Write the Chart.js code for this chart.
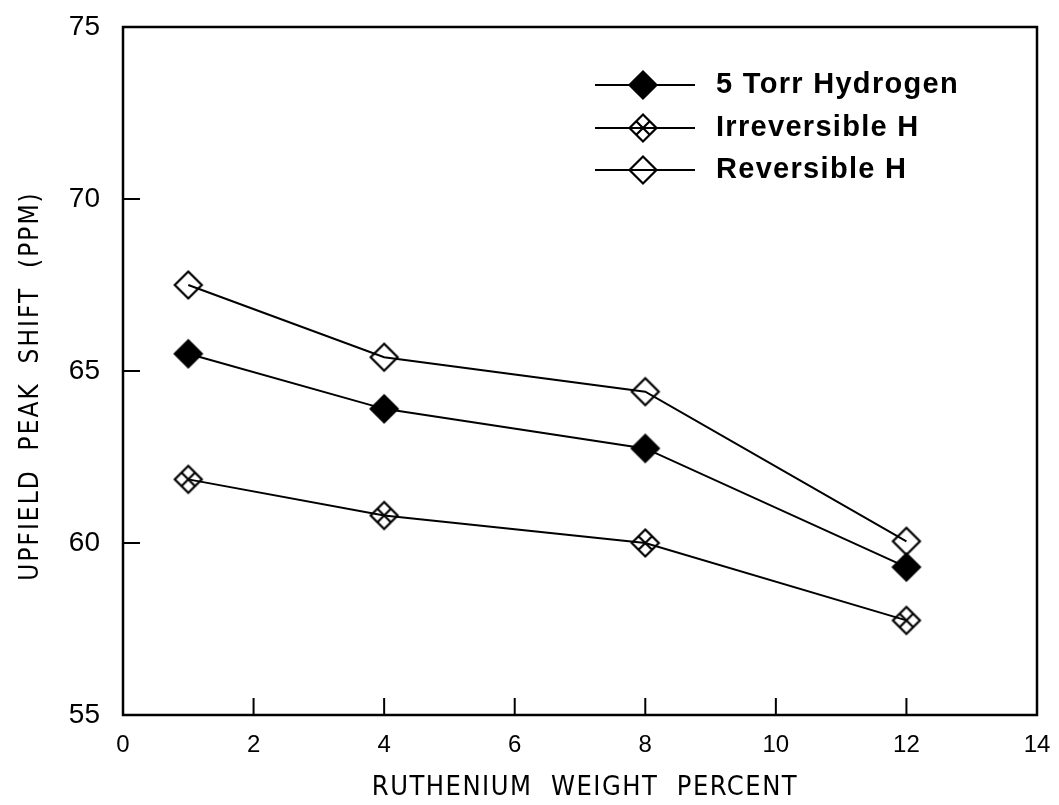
<!DOCTYPE html>
<html>
<head>
<meta charset="utf-8">
<script src="https://cdn.jsdelivr.net/npm/chart.js@4.4.0/dist/chart.umd.min.js"></script>
<style>
  html, body { margin: 0; padding: 0; background: #fff; }
  #wrap { width: 1059px; height: 805px; }
</style>
</head>
<body>
<div id="wrap"><canvas id="c" width="1059" height="805"></canvas></div>
<script>
// data
const ruPercent = [1, 4, 8, 12];
const torrHydrogen = [65.5, 63.9, 62.75, 59.3];
const irreversibleH = [61.85, 60.8, 60.0, 57.75];
const reversibleH = [67.5, 65.4, 64.4, 60.05];
const seriesNames = ['5 Torr Hydrogen', 'Irreversible H', 'Reversible H'];
const xTicks = [0, 2, 4, 6, 8, 10, 12, 14];
const yTicks = [55, 60, 65, 70, 75];
const xTitle = 'RUTHENIUM  WEIGHT  PERCENT';
const yTitle = 'UPFIELD  PEAK  SHIFT  (PPM)';

// marker images
function makeMarker(kind) {
  const s = 32, c = document.createElement('canvas');
  c.width = s; c.height = s;
  const g = c.getContext('2d');
  const m = s / 2, r = 13.5;
  g.beginPath();
  g.moveTo(m, m - r); g.lineTo(m + r, m); g.lineTo(m, m + r); g.lineTo(m - r, m); g.closePath();
  if (kind === 'filled') {
    g.fillStyle = '#000';
    g.fill();
  }
  g.lineWidth = 2.2;
  g.strokeStyle = '#000';
  g.stroke();
  if (kind === 'cross') {
    g.beginPath();
    g.moveTo(m - r / 2, m - r / 2); g.lineTo(m + r / 2, m + r / 2);
    g.moveTo(m + r / 2, m - r / 2); g.lineTo(m - r / 2, m + r / 2);
    g.stroke();
  }
  return c;
}
const markers = [makeMarker('filled'), makeMarker('cross'), makeMarker('open')];

// box + inward ticks + titles + legend
const frame = {
  id: 'frame',
  afterDatasetsDraw(chart) {
    const { ctx, chartArea: a, scales } = chart;
    ctx.save();
    ctx.strokeStyle = '#000';
    ctx.lineWidth = 2.5;
    ctx.strokeRect(a.left, a.top, a.right - a.left, a.bottom - a.top);
    ctx.lineWidth = 2;
    ctx.beginPath();
    xTicks.forEach(v => {
      const x = scales.x.getPixelForValue(v);
      if (v === 0 || v === 14) return;
      ctx.moveTo(x, a.bottom); ctx.lineTo(x, a.bottom - 17);
    });
    yTicks.forEach(v => {
      const y = scales.y.getPixelForValue(v);
      if (v === 55 || v === 75) return;
      ctx.moveTo(a.left, y); ctx.lineTo(a.left + 17, y);
    });
    ctx.stroke();

    // axis titles
    ctx.fillStyle = '#000';
    ctx.textAlign = 'center';
    ctx.textBaseline = 'middle';
    ctx.font = '27px "DejaVu Sans Condensed", "Liberation Sans Narrow", sans-serif';
    ctx.letterSpacing = '1.5px';
    ctx.fillText(xTitle, 585, 788);
    ctx.save();
    ctx.translate(31, 386);
    ctx.rotate(-Math.PI / 2);
    ctx.font = '26px "DejaVu Sans Condensed", "Liberation Sans Narrow", sans-serif';
    ctx.letterSpacing = '2px';
    ctx.fillText(yTitle, 0, 0);
    ctx.restore();

    // legend
    const rows = [85, 128, 170];
    ctx.textAlign = 'left';
    ctx.font = 'bold 29px "Liberation Sans", Arial, sans-serif';
    ctx.letterSpacing = '1.3px';
    rows.forEach((y, i) => {
      ctx.lineWidth = 2;
      ctx.beginPath();
      ctx.moveTo(595, y); ctx.lineTo(695, y);
      ctx.stroke();
      ctx.drawImage(markers[i], 643 - 16, y - 16);
      ctx.fillText(seriesNames[i], 716, y);
    });
    ctx.restore();
  }
};

const mk = (vals, i) => ({
  label: seriesNames[i],
  data: ruPercent.map((x, k) => ({ x: x, y: vals[k] })),
  borderColor: '#000',
  borderWidth: 2,
  pointStyle: markers[i],
  pointRadius: 13,
  tension: 0,
  fill: false
});

new Chart(document.getElementById('c'), {
  type: 'line',
  data: {
    datasets: [mk(torrHydrogen, 0), mk(irreversibleH, 1), mk(reversibleH, 2)]
  },
  options: {
    responsive: false,
    animation: false,
    layout: { padding: { left: 0, right: 22, top: 27, bottom: 0 } },
    plugins: { legend: { display: false }, tooltip: { enabled: false } },
    scales: {
      x: {
        type: 'linear',
        min: 0, max: 14,
        afterBuildTicks: s => { s.ticks = xTicks.map(v => ({ value: v })); },
        afterFit: s => { s.height = 90; s.paddingLeft = 0; s.paddingRight = 0; },
        grid: { display: false, drawTicks: false, tickLength: 0 },
        border: { display: false },
        ticks: { color: '#000', padding: 16, maxRotation: 0, font: { family: '"Liberation Sans", Arial, sans-serif', size: 24 } }
      },
      y: {
        min: 55, max: 75,
        afterBuildTicks: s => { s.ticks = yTicks.map(v => ({ value: v })); },
        afterFit: s => { s.width = 123; s.paddingTop = 0; s.paddingBottom = 0; },
        grid: { display: false, drawTicks: false, tickLength: 0 },
        border: { display: false },
        ticks: { color: '#000', padding: 23, font: { family: '"Liberation Sans", Arial, sans-serif', size: 28 } }
      }
    }
  },
  plugins: [frame]
});
</script>
</body>
</html>
